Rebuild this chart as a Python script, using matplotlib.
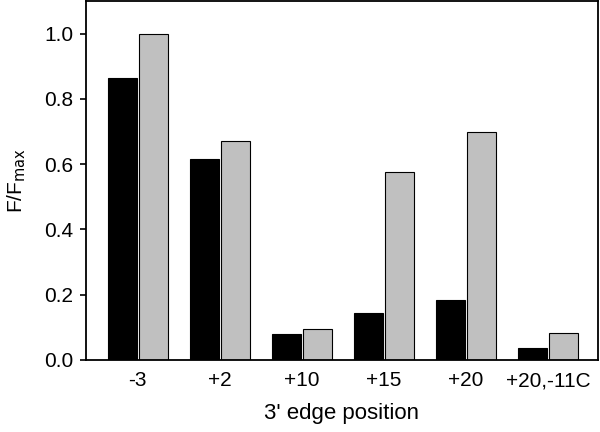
import matplotlib
matplotlib.use('Agg')
import matplotlib.pyplot as plt
import numpy as np

plt.rcParams['font.family'] = ['Liberation Sans', 'DejaVu Sans']

positions = ['-3', '+2', '+10', '+15', '+20', '+20,-11C']
black_vals = [0.865, 0.615, 0.080, 0.143, 0.183, 0.036]
gray_vals = [1.0, 0.672, 0.095, 0.577, 0.700, 0.083]

fig = plt.figure(figsize=(6, 4.32), dpi=100)
ax = fig.add_axes([0.1433, 0.1667, 0.8534, 0.831])

x = np.arange(len(positions))
w = 0.355
ax.bar(x - w / 2 - 0.012, black_vals, w, color='black', edgecolor='black', linewidth=0.8)
ax.bar(x + w / 2 + 0.012, gray_vals, w, color='#c0c0c0', edgecolor='black', linewidth=0.8)

ax.set_xlim(-0.63, 5.61)
ax.set_ylim(0, 1.1)
ax.set_yticks([0.0, 0.2, 0.4, 0.6, 0.8, 1.0])
ax.set_yticklabels(['0.0', '0.2', '0.4', '0.6', '0.8', '1.0'])
ax.set_xticks(x)
ax.set_xticklabels(positions)
ax.tick_params(axis='y', direction='out', length=4, width=1.2, labelsize=15, pad=5)
ax.tick_params(axis='x', length=0, labelsize=15, pad=8)
for s in ax.spines.values():
    s.set_linewidth(1.3)

ax.set_xlabel("3' edge position", fontsize=16, labelpad=9)
ax.set_ylabel(r'F/F$_{\mathrm{max}}$', fontsize=15, labelpad=12)

plt.savefig('out.png', dpi=100)
